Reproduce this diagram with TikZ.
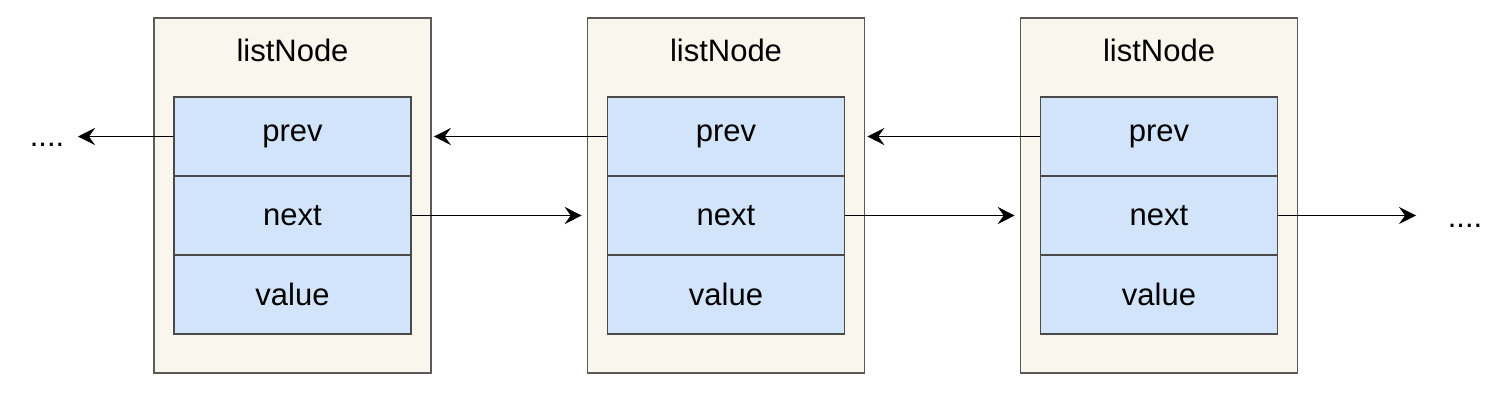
\documentclass[tikz,border=0pt]{standalone}
\usepackage{fontspec}
\setmainfont{Liberation Sans}
\usetikzlibrary{arrows.meta}
\definecolor{shellfill}{HTML}{F9F7ED}
\definecolor{shelldraw}{HTML}{5A5A5A}
\definecolor{fieldfill}{HTML}{D2E4FA}
\definecolor{fielddraw}{HTML}{4A4A4A}
\begin{document}
\begin{tikzpicture}[x=1pt, y=-1pt,
  shell/.style={draw=shelldraw, fill=shellfill, line width=1.6pt,
    minimum width=277pt, minimum height=355pt, inner sep=0pt},
  field/.style={draw=fielddraw, fill=fieldfill, line width=1.4pt,
    minimum width=237pt, minimum height=79pt, inner sep=0pt},
  link/.style={line width=1.9pt, -{Stealth[length=17pt, width=17pt, inset=6pt]}},
  font=\fontsize{31}{36}\selectfont]
\useasboundingbox (0,0) rectangle (1506,402);

% Three list nodes
\foreach \i/\x in {1/292.5, 2/726, 3/1159}{
  \node[shell] (shell\i) at (\x,195.5) {};
  \node (title\i) at (\x,50) {listNode};
  \node[field] (prev\i) at (\x,136.5) {\raisebox{-3pt}{prev}};
  \node[field] (next\i) at (\x,215.5) {\raisebox{-3pt}{next}};
  \node[field] (value\i) at (\x,294.5) {\raisebox{-3pt}{value}};
}

% Open ends
\node[anchor=base] (dotsL) at (47,146) {....};
\node[anchor=base] (dotsR) at (1465,227) {....};
\coordinate (endL) at (78,136.5);
\coordinate (endR) at (1416,215.5);

% prev pointers
\draw[link] (prev1.west) -- (endL);
\draw[link] (prev2.west) -- ([xshift=2pt]prev2.west -| shell1.east);
\draw[link] (prev3.west) -- ([xshift=2pt]prev3.west -| shell2.east);

% next pointers
\draw[link] (next1.east) -- ([xshift=-5pt]next1.east -| shell2.west);
\draw[link] (next2.east) -- ([xshift=-5pt]next2.east -| shell3.west);
\draw[link] (next3.east) -- (endR);
\end{tikzpicture}
\end{document}
